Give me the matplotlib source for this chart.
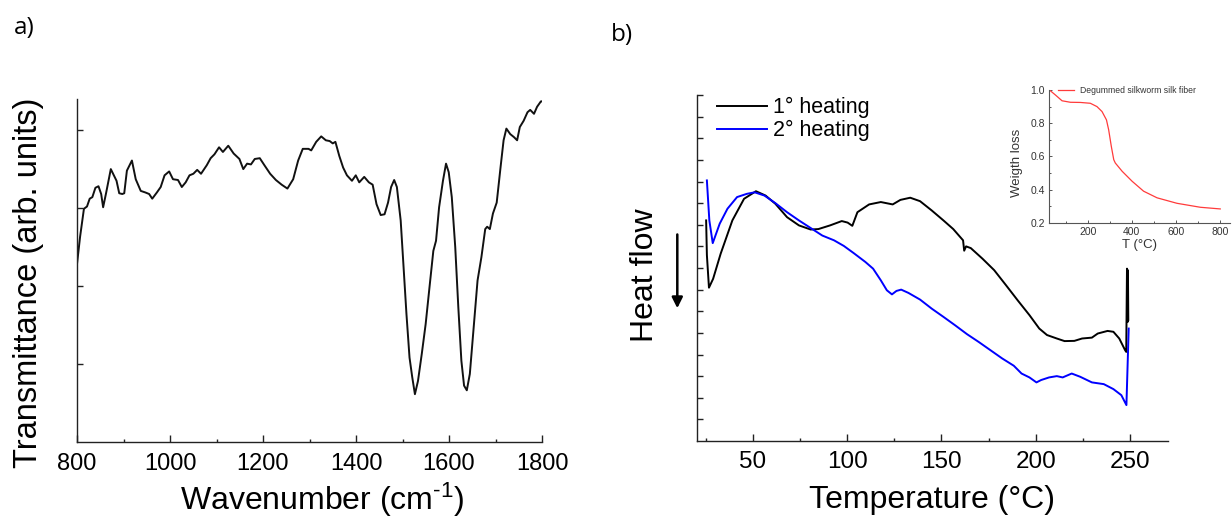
import matplotlib
matplotlib.use("Agg")
import matplotlib.pyplot as plt
from matplotlib.ticker import MultipleLocator, FixedLocator
from matplotlib.patches import FancyArrowPatch

plt.rcParams['font.family'] = ['Liberation Sans', 'DejaVu Sans']
plt.rcParams['mathtext.fontset'] = 'custom'
plt.rcParams['mathtext.rm'] = 'Liberation Sans'
plt.rcParams['mathtext.default'] = 'regular'

# ---------------- data: panel a (FTIR) ----------------
ftir_wn = [800, 806.6, 814.9, 821.5, 827.3, 833, 839.6, 846.2, 852, 856.2, 862.8, 872.7,
           880.9, 885, 890.8, 897.4, 901.6, 907.3, 918.1, 926.3, 937.1, 947, 955.2, 961.8,
           971.8, 980, 988.3, 998.2, 1006.4, 1017.2, 1025.4, 1033.7, 1041.9, 1050.2, 1058.5,
           1066.7, 1079.1, 1087.4, 1095.6, 1105.5, 1113.8, 1125.3, 1136.9, 1149.3, 1157.6,
           1165.8, 1174.1, 1182.3, 1193.1, 1203, 1215.4, 1227.7, 1240.1, 1252.5, 1264.9,
           1275.6, 1285.5, 1297.9, 1303.7, 1314.4, 1325.2, 1335.1, 1343.4, 1350, 1355.7,
           1364, 1372.3, 1380.5, 1391.3, 1399.5, 1407, 1417.7, 1427.7, 1435.8, 1444.1,
           1453.1, 1461.4, 1468.9, 1475.5, 1482.1, 1487.9, 1496.1, 1501.9, 1508.5, 1515.1,
           1520.9, 1526.7, 1533.3, 1541.5, 1549.8, 1558, 1566.3, 1572.1, 1578.7, 1587,
           1593.6, 1599.4, 1606, 1613.4, 1620, 1626.6, 1632.4, 1638.3, 1644.8, 1653.1,
           1661.4, 1669.7, 1677.9, 1682.1, 1687.8, 1694.5, 1702.6, 1710.8, 1717.4, 1723.4,
           1731.6, 1739.8, 1746.5, 1752.3, 1760.5, 1768.8, 1774.6, 1782.8, 1789.4, 1797.7,
           1800]
ftir_t = [2.28, 2.63, 2.99, 3.02, 3.12, 3.14, 3.26, 3.28, 3.18, 3.01, 3.20, 3.50,
          3.40, 3.35, 3.19, 3.18, 3.19, 3.48, 3.61, 3.37, 3.22, 3.20, 3.18, 3.12,
          3.20, 3.27, 3.42, 3.47, 3.37, 3.36, 3.27, 3.33, 3.42, 3.44, 3.49,
          3.44, 3.55, 3.64, 3.69, 3.78, 3.72, 3.80, 3.70, 3.63, 3.50,
          3.57, 3.56, 3.63, 3.64, 3.55, 3.44, 3.36, 3.30, 3.25, 3.37,
          3.61, 3.76, 3.76, 3.74, 3.85, 3.92, 3.87, 3.86, 3.83, 3.85,
          3.67, 3.52, 3.42, 3.35, 3.42, 3.33, 3.40, 3.33, 3.30, 3.05,
          2.91, 2.92, 3.07, 3.27, 3.36, 3.27, 2.84, 2.28, 1.64, 1.08,
          0.83, 0.61, 0.78, 1.13, 1.51, 1.98, 2.45, 2.58, 3.01, 3.35,
          3.57, 3.46, 3.14, 2.50, 1.73, 1.04, 0.72, 0.66, 0.87, 1.47,
          2.07, 2.37, 2.73, 2.76, 2.73, 2.93, 3.07, 3.52, 3.87, 4.02,
          3.95, 3.91, 3.87, 4.04, 4.12, 4.23, 4.26, 4.21, 4.30, 4.37,
          4.37]
ftir_xticks = [800, 1000, 1200, 1400, 1600, 1800]

# ---------------- data: panel b (DSC) ----------------
h1_T = [25.3, 25.7, 26.8, 29.0, 33.0, 39.2, 45.4, 51.7, 56.8, 62.0, 68.2, 74.5, 80.7,
        84.8, 91.0, 97.2, 100.3, 102.8, 105.5, 111.7, 117.9, 124.2, 128.3, 133.5, 138.7,
        144.9, 151.1, 156.3, 161.5, 162.1, 163.1, 165.6, 171.8, 178.0, 184.3, 190.5,
        196.7, 201.9, 206.0, 211.2, 215.3, 220.5, 224.6, 229.8, 232.9, 238.1, 241.2,
        244.3, 247.4, 248.0, 248.4, 248.7, 248.9, 249.1]
h1_hf = [10.2, 8.6, 7.09, 7.5, 8.66, 10.2, 11.2, 11.55, 11.35, 10.97, 10.35, 9.97, 9.78,
         9.8, 9.97, 10.17, 10.1, 9.95, 10.58, 10.94, 11.05, 10.94, 11.15, 11.25, 11.09,
         10.66, 10.2, 9.8, 9.28, 8.8, 9.0, 8.92, 8.43, 7.9, 7.2, 6.5,
         5.82, 5.2, 4.9, 4.74, 4.62, 4.63, 4.74, 4.78, 4.97, 5.09, 5.05,
         4.74, 4.2, 4.12, 7.97, 5.5, 7.9, 5.6]
h2_T = [25.7, 27.0, 28.8, 32.5, 36.6, 41.7, 46.9, 51.0, 56.2, 62.0, 68.2, 74.5, 80.7,
        86.9, 93.1, 98.3, 103.5, 109.7, 113.8, 117.9, 121.1, 123.8, 126.2, 128.7, 132.5,
        138.7, 144.9, 151.1, 157.3, 163.6, 169.8, 176.0, 182.2, 188.4, 192.5, 196.7,
        200.4, 202.9, 207.1, 211.2, 214.3, 219.1, 223.6, 229.8, 236.1, 241.2, 245.4,
        248.1, 248.7, 249.3]
h2_hf = [12.05, 10.2, 9.15, 10.05, 10.74, 11.28, 11.43, 11.5, 11.35, 11.0, 10.58, 10.2, 9.85,
         9.5, 9.28, 9.02, 8.69, 8.28, 7.97, 7.43, 6.97, 6.78, 6.94, 7.0, 6.85,
         6.54, 6.12, 5.74, 5.35, 4.94, 4.58, 4.2, 3.82, 3.48, 3.12, 2.94,
         2.71, 2.82, 2.94, 3.0, 2.94, 3.12, 2.97, 2.71, 2.63, 2.4, 2.12,
         1.66, 3.43, 5.2]
dsc_labels = ["1° heating", "2° heating"]
dsc_xticks = [50, 100, 150, 200, 250]

# ---------------- data: inset (TGA) ----------------
tga_T = [27, 54, 84, 122, 167, 212, 242, 265, 285, 295, 307, 318, 325, 356, 401, 453,
         514, 604, 710, 800]
tga_w = [1.0, 0.97, 0.935, 0.926, 0.925, 0.92, 0.90, 0.87, 0.82, 0.76, 0.66, 0.58, 0.56,
         0.51, 0.45, 0.39, 0.35, 0.317, 0.293, 0.283]
tga_label = "Degummed silkworm silk fiber"

W, H = 1232, 517
fig = plt.figure(figsize=(W / 100, H / 100), dpi=100)


def fx(px):
    return px / W


def fy(py):
    return 1 - py / H


spine_c = '#222222'

# ---------------- panel a ----------------
axa = fig.add_axes([fx(77), fy(441.7), fx(542) - fx(77), fy(99) - fy(441.7)])
axa.plot(ftir_wn, ftir_t, color='#111111', lw=1.4)
axa.set_xlim(800, 1800)
axa.set_ylim(0, 4.4)
axa.xaxis.set_major_locator(FixedLocator(ftir_xticks))
axa.xaxis.set_minor_locator(MultipleLocator(100))
axa.yaxis.set_major_locator(FixedLocator([1, 2, 3, 4]))
axa.set_yticklabels([])
for s in ['top', 'right']:
    axa.spines[s].set_visible(False)
for s in ['left', 'bottom']:
    axa.spines[s].set_color(spine_c)
    axa.spines[s].set_linewidth(1.0)
axa.tick_params(axis='x', which='major', direction='in', length=5, width=1.0,
                color=spine_c, labelsize=17, pad=8)
axa.tick_params(axis='x', which='minor', direction='in', length=2.5, width=1.0, color=spine_c)
axa.tick_params(axis='y', which='major', direction='in', length=4.5, width=1.0, color=spine_c)

fig.text(fx(321.9), fy(510), r'Wavenumber (cm$^{\text{-}1}$)', fontsize=23,
         ha='center', va='baseline')
fig.text(fx(37), fy(282.5), 'Transmittance (arb. units)', fontsize=23.5,
         rotation=90, rotation_mode='anchor', ha='center', va='baseline')
fig.text(fx(14), fy(34.5), 'a)', fontsize=17.5, family=['Open Sans', 'DejaVu Sans'],
         ha='left', va='baseline')

# ---------------- panel b ----------------
axb = fig.add_axes([fx(696.7), fy(441), fx(1168.3) - fx(696.7), fy(95) - fy(441)])
axb.plot(h1_T, h1_hf, color='black', lw=1.4, label=dsc_labels[0])
axb.plot(h2_T, h2_hf, color='#0000ff', lw=1.4, label=dsc_labels[1])
axb.set_xlim(20.3, 270.3)
axb.set_ylim(0, 16)
axb.xaxis.set_major_locator(FixedLocator(dsc_xticks))
axb.xaxis.set_minor_locator(FixedLocator([25, 75, 125, 175, 225]))
axb.yaxis.set_major_locator(FixedLocator(list(range(1, 17))))
axb.set_yticklabels([])
for s in ['top', 'right']:
    axb.spines[s].set_visible(False)
for s in ['left', 'bottom']:
    axb.spines[s].set_color(spine_c)
    axb.spines[s].set_linewidth(1.0)
axb.tick_params(axis='x', which='major', direction='in', length=5, width=1.0,
                color=spine_c, labelsize=17.5, pad=7.5)
axb.tick_params(axis='x', which='minor', direction='in', length=2.5, width=1.0, color=spine_c)
axb.tick_params(axis='y', which='major', direction='in', length=4.5, width=1.0, color=spine_c)

leg = axb.legend(loc='upper left', bbox_to_anchor=(fx(717), fy(97)),
                 bbox_transform=fig.transFigure, frameon=False, fontsize=15.5,
                 handlelength=2.3, handletextpad=0.3, labelspacing=0.1,
                 borderpad=0, borderaxespad=0)
for lh in leg.get_lines():
    lh.set_linewidth(1.4)

fig.text(fx(932.2), fy(508.3), 'Temperature (°C)', fontsize=23,
         ha='center', va='baseline')
fig.text(fx(653.3), fy(275.5), 'Heat flow', fontsize=23,
         rotation=90, rotation_mode='anchor', ha='center', va='baseline')
fig.patches.append(FancyArrowPatch((fx(677.3), fy(231.7)), (fx(677.3), fy(311)),
                                   transform=fig.transFigure, arrowstyle='-|>',
                                   mutation_scale=16, lw=1.8, color='black'))
fig.text(fx(611), fy(41), 'b)', fontsize=17.5, family=['Open Sans', 'DejaVu Sans'],
         ha='left', va='baseline')

# ---------------- inset ----------------
inset_c = '#555555'
axi = fig.add_axes([fx(1049), fy(222.7), fx(1230.2) - fx(1049), fy(90) - fy(222.7)])
axi.plot(tga_T, tga_w, color='#ff3b3b', lw=0.9, label=tga_label)
axi.set_xlim(25, 845)
axi.set_ylim(0.2, 1.0)
axi.xaxis.set_major_locator(FixedLocator([200, 400, 600, 800]))
axi.xaxis.set_minor_locator(FixedLocator([100, 300, 500, 700]))
axi.yaxis.set_major_locator(FixedLocator([0.2, 0.4, 0.6, 0.8, 1.0]))
axi.yaxis.set_minor_locator(FixedLocator([0.3, 0.5, 0.7, 0.9]))
axi.yaxis.set_major_formatter(matplotlib.ticker.FormatStrFormatter('%.1f'))
for s in ['top', 'right']:
    axi.spines[s].set_visible(False)
for s in ['left', 'bottom']:
    axi.spines[s].set_color(inset_c)
    axi.spines[s].set_linewidth(0.8)
axi.tick_params(which='major', direction='in', length=2.5, width=0.7, color=inset_c,
                labelsize=7.5, labelcolor='#333333', pad=3)
axi.tick_params(which='minor', direction='in', length=1.5, width=0.7, color=inset_c)
axi.patch.set_alpha(0)
ileg = axi.legend(loc='center left', bbox_to_anchor=(fx(1058), fy(90.3)),
                  bbox_transform=fig.transFigure, frameon=False, fontsize=6.2,
                  handlelength=1.9, handletextpad=0.7, borderpad=0, borderaxespad=0,
                  labelcolor='#333333')
fig.text(fx(1020), fy(162.5), 'Weigth loss', fontsize=9.5, color='#333333',
         rotation=90, rotation_mode='anchor', ha='center', va='baseline')
fig.text(fx(1140), fy(248), 'T (°C)', fontsize=9.5, color='#333333',
         ha='center', va='baseline')

fig.savefig('out.png', dpi=100)
